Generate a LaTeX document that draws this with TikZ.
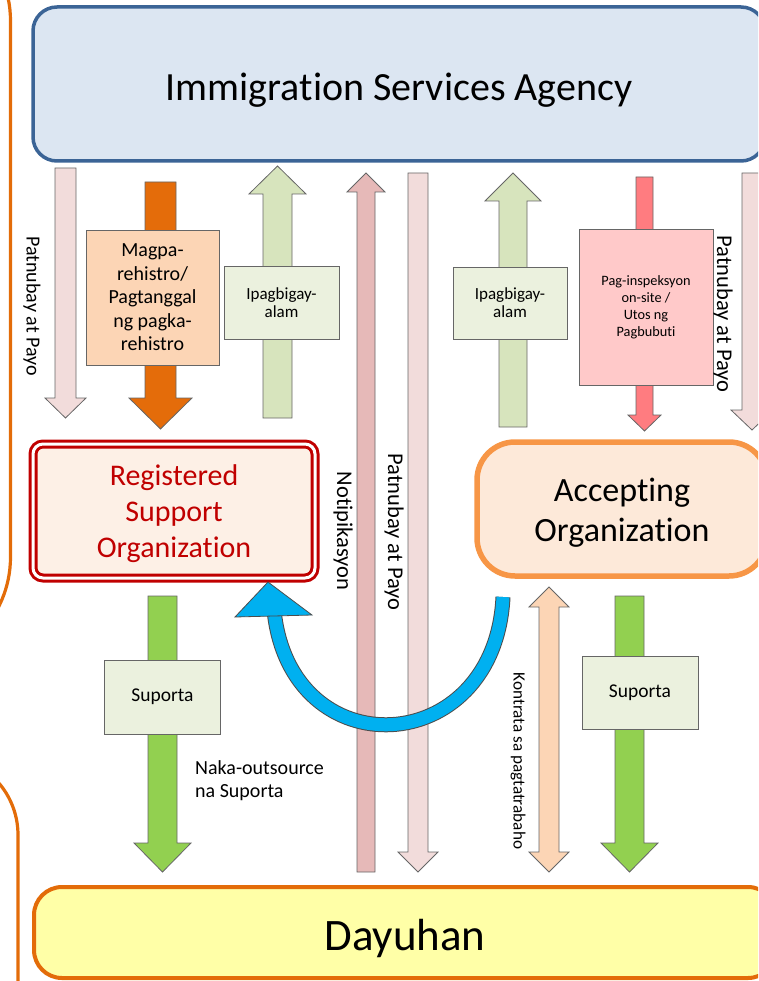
\documentclass[tikz,border=0pt]{standalone}
\usepackage{fontspec}
\setmainfont{Carlito}[Ligatures={NoCommon}]

\definecolor{isafill}{HTML}{DCE6F2}
\definecolor{isaline}{HTML}{3B6496}
\definecolor{palepink}{HTML}{F2DCDB}
\definecolor{dustypink}{HTML}{E6B9B8}
\definecolor{darkorange}{HTML}{E46C0A}
\definecolor{lightorange}{HTML}{FCD5B5}
\definecolor{palegreen}{HTML}{D7E4BD}
\definecolor{boxgreen}{HTML}{EBF1DE}
\definecolor{salmon}{HTML}{FF7C80}
\definecolor{rosebox}{HTML}{FFC9C9}
\definecolor{darkred}{HTML}{C00000}
\definecolor{rsofill}{HTML}{FDF0E6}
\definecolor{aoline}{HTML}{F79646}
\definecolor{aofill}{HTML}{FDE9D9}
\definecolor{skyblue}{HTML}{00B0F0}
\definecolor{leafgreen}{HTML}{92D050}
\definecolor{dayfill}{HTML}{FFFFA7}
\definecolor{dayline}{HTML}{E36C09}
\definecolor{edgegray}{HTML}{666666}

\tikzset{
  blockarrow/.style={draw=edgegray, line width=0.8pt},
  tagbox/.style={draw=edgegray, line width=0.8pt, inner sep=0pt, align=center},
  sidetext/.style={rotate=-90, inner sep=0pt},
}

\begin{document}
\begin{tikzpicture}[x=1pt,y=-1pt]
  \useasboundingbox (0,0) rectangle (758,981);
  \clip (0,0) rectangle (758,981);

  %outer frames on the left
  \draw[dayline, line width=3.2pt, rounded corners=110pt] (-200,-89) -- (10.5,-89) -- (10.5,667) -- (-200,667);
  \draw[dayline, line width=3.2pt, rounded corners=80pt] (-200,755) -- (18,755) -- (18,1000);

  %main boxes
  \node[draw=isaline, fill=isafill, line width=3.5pt, rounded corners=24pt, minimum width=732pt, minimum height=154pt] (isa) at (399,84) {};
  \node[font=\fontsize{40}{48}\selectfont] (isatext) at ([yshift=-6pt]isa.center) {Immigration Services Agency};
  \node[draw=dayline, fill=dayfill, line width=4pt, rounded corners=28pt, minimum width=742pt, minimum height=91pt] (dayuhan) at (405,932.5) {};
  \node[font=\fontsize{45}{54}\selectfont] (dayuhantext) at ([yshift=-6pt]dayuhan.center) {Dayuhan};

  %arrows from the agency
  %guidance left
  \draw[blockarrow, fill=palepink] (55,168) -- (76,168) -- (76,398) -- (86,398) -- (65.5,418) -- (45,398) -- (55,398) -- cycle;
  %registration
  \draw[blockarrow, fill=darkorange] (145,182) -- (176,182) -- (176,398) -- (192,398) -- (160.5,429) -- (129,398) -- (145,398) -- cycle;
  %notify left
  \draw[blockarrow, fill=palegreen] (263,418) -- (292,418) -- (292,194) -- (306,194) -- (277.5,166) -- (249,194) -- (263,194) -- cycle;
  %notification
  \draw[blockarrow, fill=dustypink] (357,872) -- (375,872) -- (375,192) -- (385,192) -- (366,173) -- (347,192) -- (357,192) -- cycle;
  %guidance middle
  \draw[blockarrow, fill=palepink] (408,173) -- (428,173) -- (428,852) -- (438,852) -- (418,872) -- (398,852) -- (408,852) -- cycle;
  %notify right
  \draw[blockarrow, fill=palegreen] (499,427) -- (527,427) -- (527,201) -- (541,201) -- (513,173) -- (485,201) -- (499,201) -- cycle;
  %inspection
  \draw[blockarrow, fill=salmon] (636,177) -- (653,177) -- (653,415) -- (661,415) -- (644.5,431) -- (628,415) -- (636,415) -- cycle;
  %guidance right
  \draw[blockarrow, fill=palepink] (742,173) -- (762,173) -- (762,410) -- (773,410) -- (752,430) -- (731,410) -- (742,410) -- cycle;

  %arrows to the foreigner
  %support left
  \draw[blockarrow, fill=leafgreen] (148,596) -- (177,596) -- (177,843) -- (191,843) -- (162.5,872) -- (134,843) -- (148,843) -- cycle;
  %support right
  \draw[blockarrow, fill=leafgreen] (615,596) -- (644,596) -- (644,843) -- (658,843) -- (629.5,872) -- (601,843) -- (615,843) -- cycle;
  %contract
  \draw[blockarrow, fill=lightorange] (549,587) -- (569,607) -- (559,607) -- (559,852) -- (569,852) -- (549,872) -- (529,852) -- (539,852) -- (539,607) -- (529,607) -- cycle;

  %organizations
  \node[draw=darkred, double=white, double distance=3pt, line width=3pt, fill=rsofill, rounded corners=10pt, minimum width=282pt, minimum height=134pt] (rso) at (174,511) {};
  \node[text=darkred, align=center, font=\fontsize{30}{36}\selectfont] (rsotext) at ([yshift=-3pt]rso.center) {Registered\\Support\\Organization};
  \node[draw=aoline, fill=aofill, line width=5.5pt, rounded corners=38pt, minimum width=290pt, minimum height=134pt] (ao) at (622,509) {};
  \node[align=center, font=\fontsize{34}{40}\selectfont] (aotext) at ([yshift=-4pt]ao.center) {Accepting\\Organization};

  %outsourcing curve
  \coordinate (curvestart) at (503,597);
  \coordinate (curveend) at (274,610);
  \draw[line width=15pt, black!70] (curvestart) .. controls (495,760) and (290,770) .. (curveend);
  \draw[line width=13pt, skyblue] (curvestart) .. controls (495,760) and (290,770) .. (curveend);
  \draw[line width=0.8pt, draw=black!70, fill=skyblue] (235,617) -- (312,615) -- (268,582) -- cycle;

  %boxes on the arrows
  \node[tagbox, fill=lightorange, minimum width=133pt, minimum height=135pt, font=\fontsize{20}{23.5}\selectfont] (register) at (152.5,297.5) {Magpa-\\rehistro/\\Pagtanggal\\ng pagka-\\rehistro};
  \node[tagbox, fill=boxgreen, minimum width=115pt, minimum height=73pt, font=\fontsize{17}{18}\selectfont] (notifyL) at (281.5,302.5) {Ipagbigay-\\alam};
  \node[tagbox, fill=boxgreen, minimum width=114pt, minimum height=72pt, font=\fontsize{17}{18}\selectfont] (notifyR) at (510,303) {Ipagbigay-\\alam};
  \node[tagbox, fill=rosebox, minimum width=134pt, minimum height=156pt, font=\fontsize{14.3}{17}\selectfont] (inspect) at (646,307) {Pag-inspeksyon\\on-site /\\Utos ng\\Pagbubuti};
  \node[tagbox, fill=boxgreen, minimum width=116pt, minimum height=74pt, font=\fontsize{19.5}{23}\selectfont] (supportL) at (162.5,697) {Suporta};
  \node[tagbox, fill=boxgreen, minimum width=116pt, minimum height=73pt, font=\fontsize{19.5}{23}\selectfont] (supportR) at (640,692.5) {Suporta};

  %labels
  \node[sidetext, font=\fontsize{20}{24}\selectfont] (guideL) at (32,306) {Patnubay at Payo};
  \node[sidetext, font=\fontsize{22.5}{27}\selectfont] (notice) at (343,531) {Notipikasyon};
  \node[sidetext, font=\fontsize{22.5}{27}\selectfont] (guideM) at (394,532) {Patnubay at Payo};
  \node[sidetext, font=\fontsize{22.5}{27}\selectfont] (guideR) at (723,314) {Patnubay at Payo};
  \node[sidetext, font=\fontsize{17.2}{20}\selectfont] (contract) at (518,761) {Kontrata sa pagtatrabaho};
  \node[anchor=west, align=left, inner sep=0pt, font=\fontsize{20}{23}\selectfont] (outsourced) at (195,781) {Naka-outsource\\na Suporta};

\end{tikzpicture}
\end{document}
